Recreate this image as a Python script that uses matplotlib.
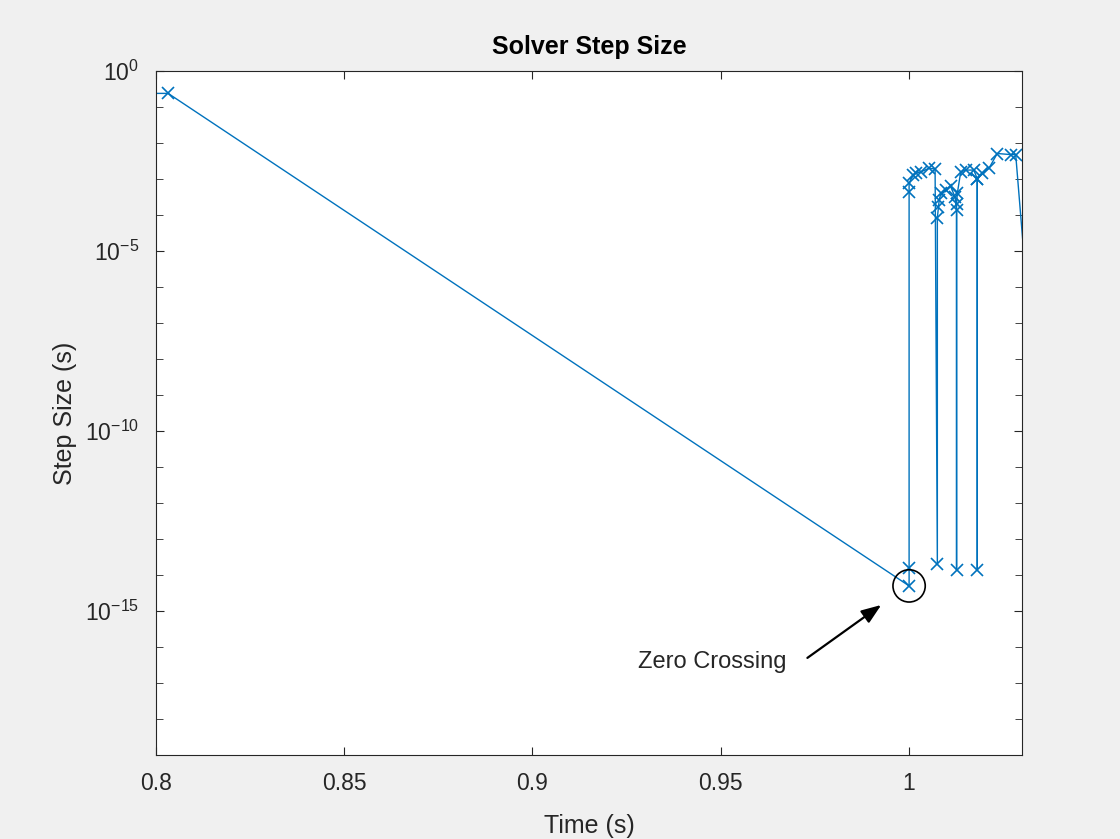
import matplotlib
matplotlib.use("Agg")
import matplotlib.pyplot as plt

plt.rcParams['font.family'] = ['Liberation Sans', 'DejaVu Sans']

# solver output: time (s) and log10 of step size (s)
time_s = [0.5633, 0.8033,
          1.0000, 1.0000, 1.0000, 1.0000, 1.0010, 1.0018, 1.0031, 1.0053, 1.0069,
          1.0075, 1.0075, 1.0078, 1.0080, 1.0084, 1.0097, 1.0110, 1.0122, 1.0126,
          1.0126, 1.0126, 1.0128, 1.0137, 1.0150, 1.0172, 1.0181,
          1.0181, 1.0181, 1.0194, 1.0212, 1.0234, 1.0270, 1.0283, 1.0340]
log_step = [-0.62, -0.62,
            -14.3, -13.8, -3.36, -3.12, -2.89, -2.84, -2.80, -2.70, -2.72,
            -13.7, -4.08, -3.77, -3.58, -3.40, -3.30, -3.20, -3.50, -3.86,
            -13.86, -3.70, -3.40, -2.80, -2.75, -2.75, -3.00,
            -13.86, -3.00, -2.84, -2.70, -2.29, -2.32, -2.32, -9.6]
step_s = [10 ** v for v in log_step]

zc_time = 1.0
zc_step = 10 ** -14.3

fig = plt.figure(figsize=(11.2, 8.39), dpi=100, facecolor='#f0f0f0')
ax = fig.add_axes([0.139, 0.100, 0.7736, 0.8153])
ax.set_facecolor('white')

ax.plot(time_s, step_s, color='#0072BD', lw=1.0, marker='x', ms=8, mew=1.2)
ax.set_yscale('log')
ax.set_xlim(0.8, 1.03)
ax.set_ylim(1e-19, 1)
ax.set_xticks([0.8, 0.85, 0.9, 0.95, 1.0])
ax.set_xticklabels(['0.8', '0.85', '0.9', '0.95', '1'])
ax.set_yticks([1e-15, 1e-10, 1e-5, 1])
ax.set_yticks([10.0 ** k for k in range(-19, 1)], minor=True)
ax.yaxis.set_minor_formatter(matplotlib.ticker.NullFormatter())
ax.tick_params(which='both', direction='in', colors='#262626', labelsize=16.5,
               top=True, right=True)
ax.tick_params(axis='x', pad=12)
ax.tick_params(axis='y', pad=12)
ax.tick_params(which='major', length=6)
ax.tick_params(which='minor', length=5)
for s in ax.spines.values():
    s.set_color('#262626')

ax.set_title('Solver Step Size', fontsize=18, fontweight='bold', color='black', pad=12)
ax.set_xlabel('Time (s)', fontsize=18, color='#262626', labelpad=14)
ax.set_ylabel('Step Size (s)', fontsize=18, color='#262626', labelpad=6)

# circle around the zero crossing point
ax.scatter([zc_time], [zc_step], s=540, facecolors='none', edgecolors='black', lw=1.2, zorder=3)

ax.annotate('', xy=(0.9926, 10 ** -14.83), xytext=(0.973, 10 ** -16.3),
            arrowprops=dict(arrowstyle='-|>,head_length=1.2,head_width=0.45', color='black',
                            lw=1.6, shrinkA=0, shrinkB=0))
ax.text(0.9478, 10 ** -16.42, 'Zero Crossing', fontsize=17, color='#262626',
        ha='center', va='center')

fig.savefig('out.png', dpi=100, facecolor=fig.get_facecolor())
